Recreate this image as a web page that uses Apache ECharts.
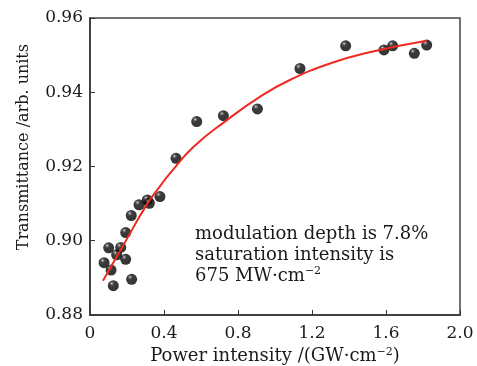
<!DOCTYPE html>
<html>
<head>
<meta charset="utf-8">
<title>Transmittance vs power intensity</title>
<script src="https://cdn.jsdelivr.net/npm/echarts@6.0.0/dist/echarts.min.js"></script>
<style>
  html, body { margin: 0; padding: 0; background: #fff; }
  #chart { width: 477px; height: 366px; }
</style>
</head>
<body>
<div id="chart"></div>
<script>
// measured points (power intensity GW/cm^2, transmittance)
const powerData = [0.076, 0.101, 0.114, 0.126, 0.144, 0.166, 0.193, 0.193, 0.223, 0.225,
  0.265, 0.310, 0.321, 0.378, 0.465, 0.577, 0.721, 0.905, 1.135, 1.382,
  1.589, 1.636, 1.753, 1.820]
const transData = [0.8941, 0.8981, 0.8921, 0.8879, 0.8962, 0.8982, 0.8950, 0.9022, 0.9068, 0.8896,
  0.9097, 0.9110, 0.9101, 0.9119, 0.9222, 0.9321, 0.9337, 0.9355, 0.9464, 0.9525,
  0.9514, 0.9525, 0.9505, 0.9527]

// fitted curve
const fitX = [0.07, 0.18, 0.31, 0.38, 0.43, 0.56, 0.74, 0.92, 1.08, 1.30, 1.51, 1.82]
const fitY = [0.8892, 0.8988, 0.9100, 0.9148, 0.9180, 0.9253, 0.9325, 0.9388, 0.9433, 0.9478, 0.9508, 0.9539]

const xTicks = [0, 0.4, 0.8, 1.2, 1.6, 2.0]
const yTicks = [0.88, 0.90, 0.92, 0.94, 0.96]

const noteLines = ['modulation depth is 7.8%', 'saturation intensity is', '675 MW·cm{sup|−2}']

const font = 'DejaVu Serif'
const ink = '#1a1a1a'

const chart = echarts.init(document.getElementById('chart'), null, { renderer: 'canvas' })

chart.setOption({
  animation: false,
  grid: {
    left: 90,
    right: 17,
    top: 18,
    bottom: 51,
    outerBoundsMode: 'none',
    containLabel: false,
    show: true,
    borderColor: '#444',
    borderWidth: 1.5
  },
  xAxis: {
    type: 'value',
    min: xTicks[0],
    max: xTicks[xTicks.length - 1],
    interval: 0.4,
    name: 'Power intensity /(GW·cm{sup|−2})',
    nameLocation: 'middle',
    nameGap: 29,
    nameTextStyle: {
      fontFamily: font, fontSize: 18, color: ink,
      rich: { sup: { fontFamily: font, fontSize: 11, color: ink, verticalAlign: 'top', lineHeight: 11 } }
    },
    axisLine: { lineStyle: { color: '#333', width: 1.5 } },
    axisTick: { inside: true, length: 5, lineStyle: { color: '#333' } },
    splitLine: { show: false },
    axisLabel: {
      fontFamily: font, fontSize: 17, color: ink, margin: 10,
      formatter: v => (v === 0 ? '0' : v.toFixed(1))
    }
  },
  yAxis: {
    type: 'value',
    min: yTicks[0],
    max: yTicks[yTicks.length - 1],
    interval: 0.02,
    axisLine: { show: true, lineStyle: { color: '#333', width: 1.5 } },
    axisTick: { show: true, inside: true, length: 5, lineStyle: { color: '#333' } },
    splitLine: { show: false },
    axisLabel: {
      fontFamily: font, fontSize: 17, color: ink, margin: 7,
      formatter: v => v.toFixed(2)
    }
  },
  graphic: [
    {
      type: 'text',
      left: 16,
      top: 44,
      rotation: Math.PI / 2,
      originX: 0,
      originY: 0,
      style: {
        text: 'Transmittance /arb. units',
        fontFamily: font, fontSize: 16, fill: ink
      }
    },
    {
      type: 'text',
      left: 195,
      top: 224,
      style: {
        text: noteLines.join('\n'),
        fontFamily: font, fontSize: 18, fill: ink,
        lineHeight: 21,
        rich: { sup: { fontFamily: font, fontSize: 11, fill: ink, verticalAlign: 'top', lineHeight: 11 } }
      }
    }
  ],
  series: [
    {
      type: 'scatter',
      data: powerData.map((x, i) => [x, transData[i]]),
      symbolSize: 11,
      itemStyle: {
        color: {
          type: 'radial', x: 0.36, y: 0.3, r: 0.75,
          colorStops: [
            { offset: 0, color: '#f4f4f4' },
            { offset: 0.12, color: '#555' },
            { offset: 0.32, color: '#0a0a0a' },
            { offset: 1, color: '#000' }
          ]
        }
      },
      z: 2
    },
    {
      type: 'line',
      data: fitX.map((x, i) => [x, fitY[i]]),
      smooth: true,
      showSymbol: false,
      lineStyle: { color: '#ee2a22', width: 2 },
      z: 3
    }
  ]
})
</script>
</body>
</html>
